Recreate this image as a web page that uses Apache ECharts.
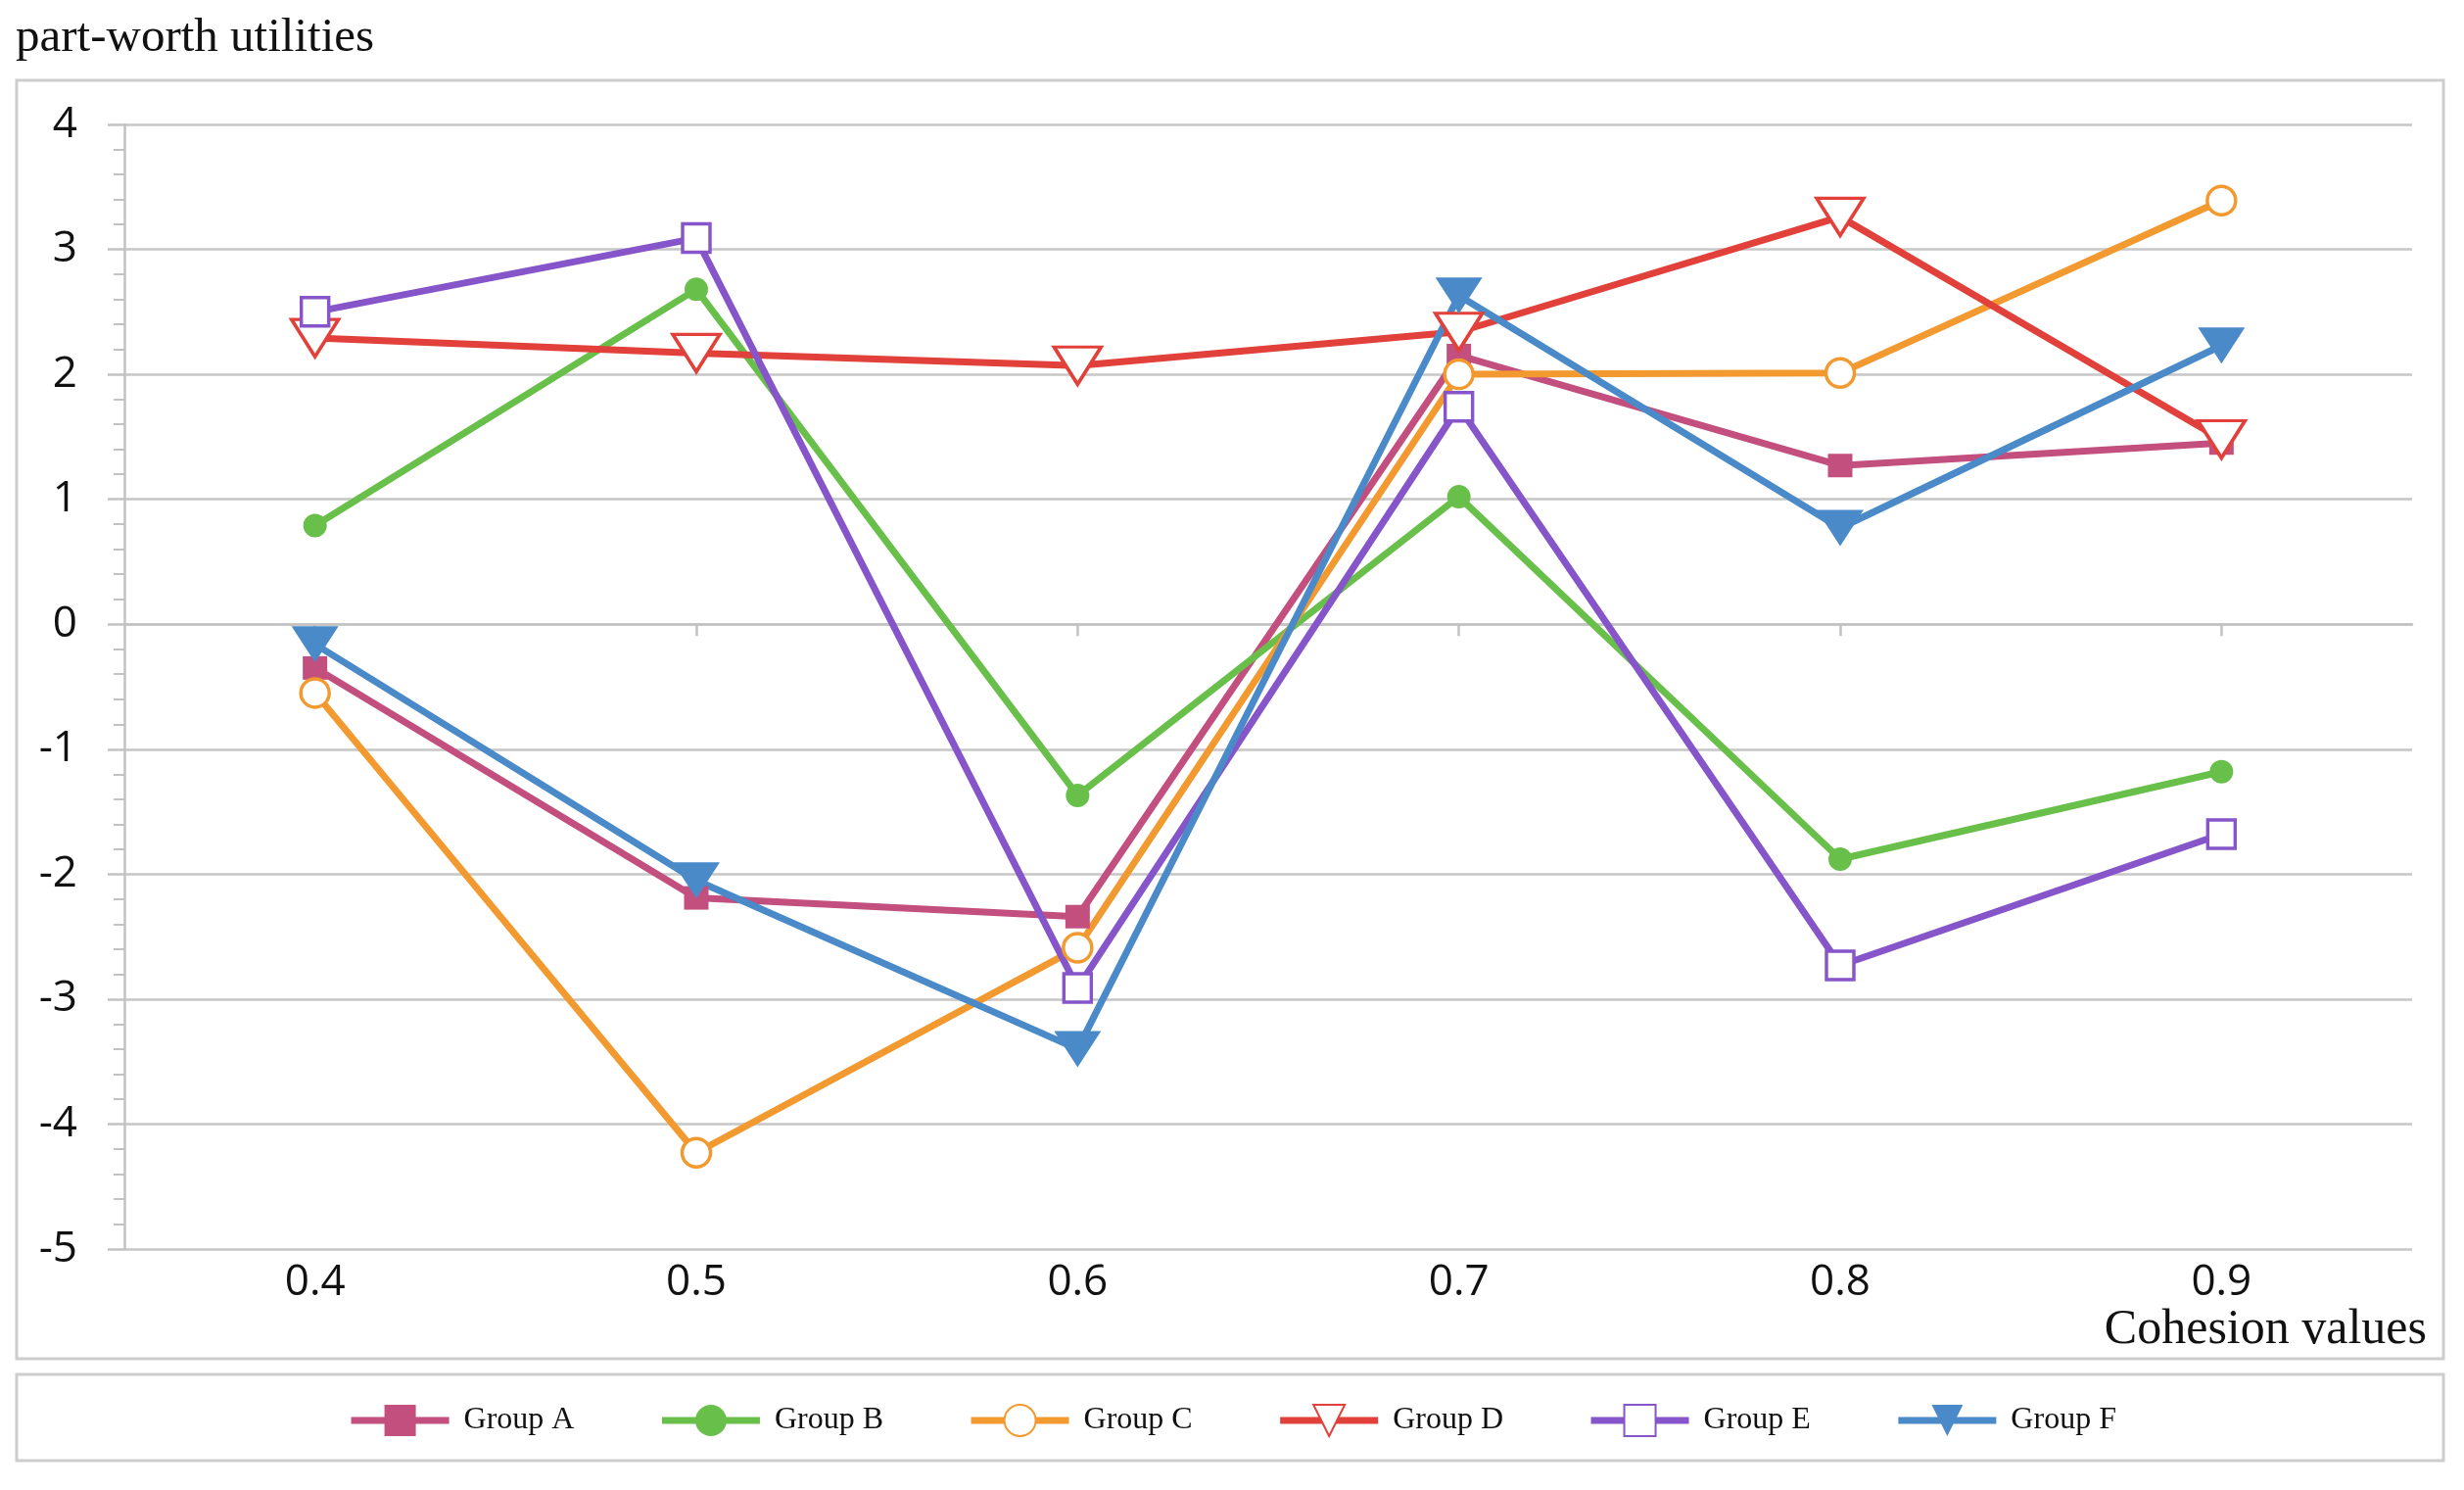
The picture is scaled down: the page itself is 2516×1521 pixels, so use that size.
<!DOCTYPE html>
<html>
<head>
<meta charset="utf-8">
<script src="https://cdn.jsdelivr.net/npm/echarts@6/dist/echarts.min.js"></script>
<style>
html,body{margin:0;padding:0;background:#fff;}
#c{width:2516px;height:1521px;}
</style>
</head>
<body>
<div id="c"></div>
<script>
const categories = ['0.4', '0.5', '0.6', '0.7', '0.8', '0.9'];
const groupA = [-0.35, -2.19, -2.34, 2.15, 1.27, 1.45];
const groupB = [0.79, 2.68, -1.37, 1.02, -1.88, -1.18];
const groupC = [-0.55, -4.23, -2.59, 2.00, 2.01, 3.39];
const groupD = [2.29, 2.17, 2.07, 2.34, 3.26, 1.48];
const groupE = [2.50, 3.09, -2.91, 1.74, -2.73, -1.68];
const groupF = [-0.16, -2.05, -3.40, 2.63, 0.77, 2.23];
const seriesNames = ['Group A', 'Group B', 'Group C', 'Group D', 'Group E', 'Group F'];
const yTicks = {min: -5, max: 4, interval: 1};
const yTitle = 'part-worth utilities';
const xTitle = 'Cohesion values';

const colors = ['#C24F7E', '#68C04B', '#F2992F', '#E1413A', '#8655C9', '#4A8AC9'];
const serif = 'Liberation Serif';
const sans = 'Open Sans';

function mk(name, data, color, symbol, size, hollow, rotate) {
  return {
    name: name,
    type: 'line',
    data: data,
    xAxisIndex: 0,
    symbol: symbol,
    symbolSize: size,
    symbolRotate: rotate || 0,
    showAllSymbol: true,
    lineStyle: {color: color, width: 7},
    itemStyle: hollow ? {color: '#ffffff', borderColor: color, borderWidth: 3.5} : {color: color, borderColor: color, borderWidth: 0},
    emphasis: {disabled: true},
    z: 3
  };
}

const chart = echarts.init(document.getElementById('c'), null, {renderer: 'canvas'});
chart.setOption({
  animation: false,
  backgroundColor: '#ffffff',
  color: colors,
  grid: {left: 127, right: 53, top: 127, bottom: 246, containLabel: false},
  graphic: [
    {type: 'rect', shape: {x: 17, y: 82, width: 2478, height: 1305}, style: {fill: 'none', stroke: '#cdcdcd', lineWidth: 3}, z: -1},
    {type: 'rect', shape: {x: 17, y: 1403, width: 2478, height: 88}, style: {fill: 'none', stroke: '#cdcdcd', lineWidth: 3}, z: -1},
    {type: 'text', x: 16, y: 15, style: {text: yTitle, font: '49px "Liberation Serif"', fill: '#111', textAlign: 'left', textVerticalAlign: 'top'}},
    {type: 'text', x: 2478, y: 1333, style: {text: xTitle, font: '50px "Liberation Serif"', fill: '#111', textAlign: 'right', textVerticalAlign: 'top'}}
  ],
  legend: {
    data: seriesNames,
    left: 'center',
    top: 1428,
    itemWidth: 100,
    itemHeight: 40,
    itemGap: 86,
    lineStyle: {width: 7},
    textStyle: {fontFamily: serif, fontSize: 32, color: '#111', padding: [0, 0, 0, 10]},
    selectedMode: false
  },
  xAxis: [
    {
      type: 'category',
      data: categories,
      position: 'bottom',
      boundaryGap: true,
      axisLine: {show: false, onZero: false},
      axisTick: {show: false},
      splitLine: {show: false},
      axisLabel: {fontFamily: sans, fontSize: 44, color: '#111', margin: 12}
    },
    {
      type: 'category',
      data: categories,
      position: 'bottom',
      boundaryGap: true,
      axisLine: {show: true, onZero: true, lineStyle: {color: '#c2c2c2', width: 2.5}},
      axisTick: {show: true, alignWithLabel: true, length: 12, lineStyle: {color: '#c2c2c2', width: 2.5}},
      axisLabel: {show: false},
      splitLine: {show: false}
    }
  ],
  yAxis: {
    type: 'value',
    min: yTicks.min,
    max: yTicks.max,
    interval: yTicks.interval,
    axisLine: {show: true, lineStyle: {color: '#c2c2c2', width: 2.5}},
    axisTick: {show: true, length: 17, lineStyle: {color: '#c2c2c2', width: 2.5}},
    minorTick: {show: true, splitNumber: 5, length: 11, lineStyle: {color: '#c2c2c2', width: 2}},
    splitLine: {show: true, lineStyle: {color: '#c6c6c6', width: 2.5}},
    axisLabel: {fontFamily: sans, fontSize: 44, color: '#111', margin: 48}
  },
  series: [
    mk(seriesNames[0], groupA, colors[0], 'rect', [25, 24], false),
    mk(seriesNames[1], groupB, colors[1], 'circle', 24, false),
    mk(seriesNames[2], groupC, colors[2], 'circle', 29, true),
    mk(seriesNames[3], groupD, colors[3], 'triangle', [48, 38], true, 180),
    mk(seriesNames[4], groupE, colors[4], 'rect', [28, 29], true),
    mk(seriesNames[5], groupF, colors[5], 'triangle', [48, 37], false, 180)
  ]
});
</script>
</body>
</html>
